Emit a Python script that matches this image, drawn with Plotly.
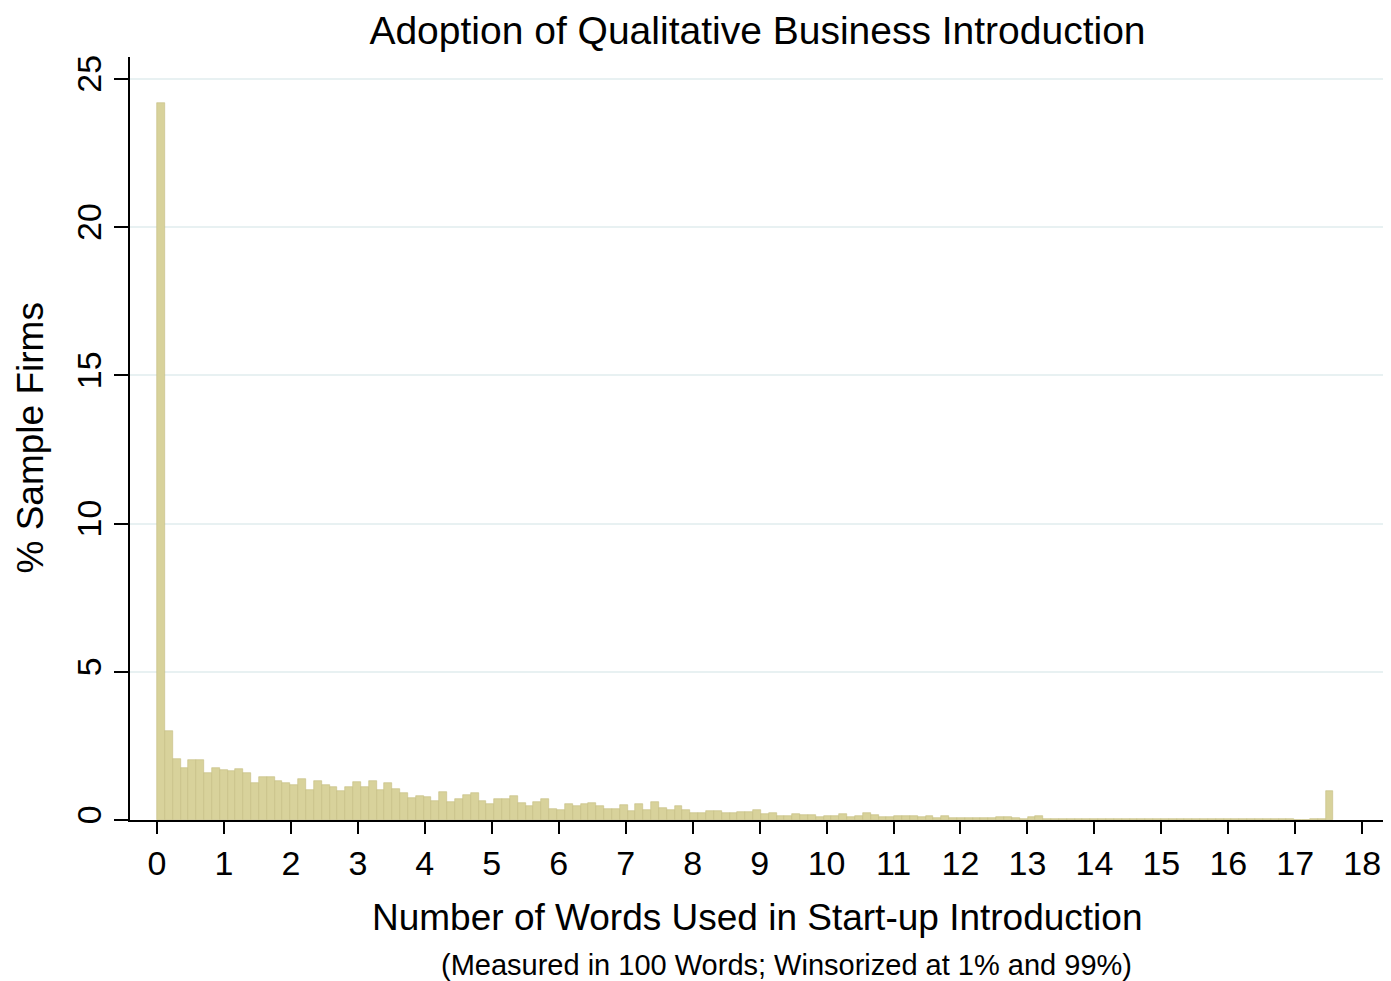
import plotly.graph_objects as go
import numpy as np

# Histogram: % of sample firms per bin of introduction length (in 100 words)
bin_start = 0.0
bin_width = 0.11713
pct = [
    24.2, 3.01, 2.07, 1.75, 2.02, 2.02, 1.57, 1.74, 1.69, 1.66,
    1.71, 1.57, 1.24, 1.44, 1.44, 1.33, 1.24, 1.17, 1.40, 1.01,
    1.32, 1.17, 1.10, 0.99, 1.10, 1.28, 1.10, 1.32, 1.01, 1.24,
    1.06, 0.90, 0.75, 0.82, 0.77, 0.64, 0.94, 0.61, 0.71, 0.83,
    0.90, 0.65, 0.54, 0.70, 0.71, 0.82, 0.56, 0.48, 0.60, 0.71,
    0.36, 0.34, 0.54, 0.48, 0.55, 0.56, 0.47, 0.36, 0.36, 0.50,
    0.31, 0.54, 0.34, 0.60, 0.39, 0.34, 0.48, 0.34, 0.25, 0.25,
    0.30, 0.29, 0.25, 0.25, 0.27, 0.27, 0.34, 0.20, 0.25, 0.12,
    0.15, 0.19, 0.17, 0.18, 0.10, 0.14, 0.14, 0.19, 0.10, 0.15,
    0.23, 0.17, 0.09, 0.09, 0.14, 0.14, 0.13, 0.10, 0.15, 0.08,
    0.14, 0.07, 0.07, 0.06, 0.07, 0.06, 0.07, 0.10, 0.11, 0.06,
    0.05, 0.10, 0.12, 0.05, 0.05, 0.05, 0.05, 0.05, 0.03, 0.03,
    0.05, 0.03, 0.03, 0.05, 0.03, 0.03, 0.05, 0.03, 0.03, 0.05,
    0.03, 0.03, 0.05, 0.05, 0.03, 0.03, 0.03, 0.05, 0.05, 0.05,
    0.03, 0.03, 0.03, 0.05, 0.05, 0.00, 0.00, 0.03, 0.03, 0.98,
]
x_ticks = list(range(0, 19))
y_ticks = [0, 5, 10, 15, 20, 25]

title = "Adoption of Qualitative Business Introduction"
x_title = "Number of Words Used in Start-up Introduction"
x_subtitle = "(Measured in 100 Words; Winsorized at 1% and 99%)"
y_title = "% Sample Firms"

centers = bin_start + bin_width * (np.arange(len(pct)) + 0.5)

FONT = "Liberation Sans, Arial, sans-serif"
W, H = 1383, 973  # page has an 8px body margin

fig = go.Figure()
fig.add_trace(go.Bar(
    x=centers, y=pct, width=bin_width,
    marker=dict(color="rgb(216,210,155)",
                line=dict(color="rgb(196,189,130)", width=0.6)),
    hoverinfo="x+y",
))

fig.update_layout(
    width=W, height=H,
    margin=dict(l=122, r=6, t=49, b=161),
    paper_bgcolor="white", plot_bgcolor="white",
    showlegend=False, bargap=0,
    font=dict(family=FONT, color="black", size=26),
    title=dict(text=title, x=0.5, xref="paper", y=1 - 22 / H,
               yanchor="middle", xanchor="center",
               font=dict(size=39, family=FONT, color="black")),
)

fig.update_xaxes(
    range=[-0.403, 18.34], tickvals=x_ticks, ticktext=[str(t) for t in x_ticks],
    showgrid=False, zeroline=False,
    showline=True, linecolor="black", linewidth=1.5,
    ticks="outside", ticklen=12, tickwidth=1.5, tickcolor="black",
    tickfont=dict(size=34, family=FONT, color="black"),
)
fig.update_yaxes(
    range=[0, 25.74], tickvals=y_ticks, ticktext=[str(t) for t in y_ticks],
    showgrid=True, gridcolor="rgb(232,241,242)", gridwidth=1.5,
    zeroline=False,
    showline=True, linecolor="black", linewidth=1.5,
    ticks="outside", ticklen=14, tickwidth=1.5, tickcolor="black",
    tickangle=-90,
    tickfont=dict(size=34, family=FONT, color="black"),
)

fig.add_annotation(text=x_title, xref="paper", yref="paper", x=0.5, y=0,
                   yanchor="middle", yshift=-97, showarrow=False,
                   font=dict(size=37, family=FONT, color="black"))
fig.add_annotation(text=x_subtitle, xref="paper", yref="paper", x=0.5, y=0,
                   xshift=29, yanchor="middle", yshift=-145, showarrow=False,
                   font=dict(size=29, family=FONT, color="black"))
fig.add_annotation(text=y_title, xref="paper", yref="paper", x=0, y=0.5,
                   xanchor="center", yanchor="middle", xshift=-100,
                   textangle=-90, showarrow=False,
                   font=dict(size=37, family=FONT, color="black"))

fig.write_html("out.html")
